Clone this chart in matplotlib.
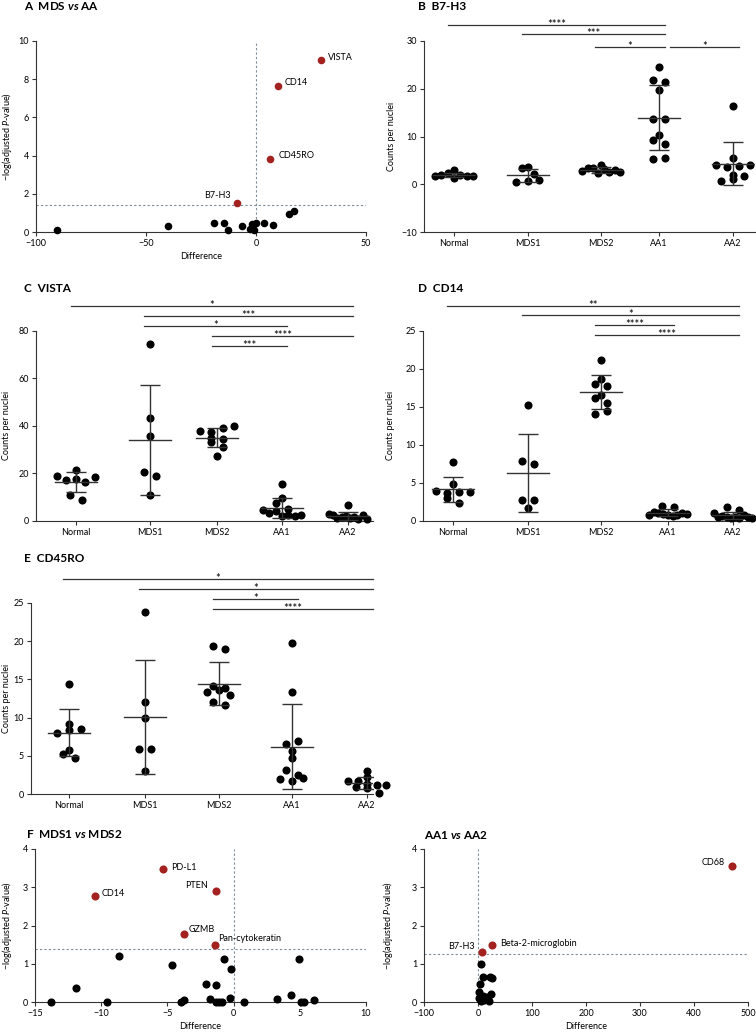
import numpy as np
import matplotlib
matplotlib.use("Agg")
import matplotlib.pyplot as plt

plt.rcParams['font.family'] = ['Lato', 'DejaVu Sans']
plt.rcParams['mathtext.fontset'] = 'custom'
plt.rcParams['mathtext.rm'] = 'Lato'
plt.rcParams['mathtext.it'] = 'Lato:italic'
plt.rcParams['mathtext.bf'] = 'Lato:bold'
plt.rcParams['mathtext.bfit'] = 'Lato:bold:italic'

# ---------------- data ----------------
groups = ['Normal', 'MDS1', 'MDS2', 'AA1', 'AA2']

b7h3 = [[1.8, 2.9, 1.9, 2.4, 1.4, 2.0, 1.7, 1.8],
        [3.3, 2.1, 3.6, 0.5, 0.7, 0.8],
        [2.7, 4.0, 3.4, 3.3, 2.3, 3.2, 2.5, 2.9, 2.5],
        [24.5, 21.8, 21.4, 19.8, 13.6, 13.6, 10.3, 9.2, 8.5, 5.3, 5.6],
        [16.4, 4.1, 5.4, 3.7, 3.9, 4.1, 0.6, 2.0, 1.0, 1.7]]

vista = [[19.0, 17.2, 21.4, 17.5, 16.5, 18.6, 11.1, 8.8],
         [74.5, 43.4, 35.9, 20.6, 18.9, 11.1],
         [38.0, 37.4, 39.1, 39.8, 33.3, 35.0, 34.6, 31.1, 27.2],
         [15.6, 9.8, 7.4, 4.9, 4.6, 3.5, 4.3, 2.1, 2.4, 2.1, 2.6],
         [6.9, 2.9, 2.4, 1.3, 1.7, 2.0, 1.1, 1.5, 0.8, 2.6, 1.0]]

cd14 = [[4.0, 3.7, 3.85, 4.85, 3.75, 7.8, 3.05, 2.3],
        [15.3, 7.9, 7.5, 2.8, 2.8, 1.7],
        [21.1, 18.7, 18.0, 17.7, 16.6, 16.2, 15.5, 14.1, 14.5],
        [2.0, 1.8, 0.8, 1.2, 1.0, 0.9, 0.8, 0.7, 0.8, 1.1, 0.9],
        [1.8, 1.5, 1.0, 0.5, 0.6, 0.5, 0.4, 0.5, 0.4, 0.8, 0.5, 0.4]]

cd45ro = [[14.45, 9.1, 8.0, 8.35, 8.5, 5.8, 5.3, 4.65],
          [23.8, 12.1, 9.9, 5.9, 5.85, 3.05],
          [19.4, 19.0, 14.1, 13.9, 13.3, 13.6, 12.9, 12.1, 11.6],
          [19.7, 13.4, 6.5, 6.9, 5.6, 4.75, 3.2, 2.55, 2.0, 1.65, 2.1],
          [3.0, 2.2, 1.7, 1.65, 1.3, 1.2, 1.15, 0.9, 0.8, 0.15]]

# significance brackets: (from group, to group, height, stars)
b7h3_sig = [(0, 3, 33.35, '****'), (1, 3, 31.5, '***'), (2, 3, 28.7, '*'), (3, 4, 28.7, '*')]
vista_sig = [(0, 4, 90.4, '*'), (1, 4, 86.2, '***'), (1, 3, 82.0, '*'),
             (2, 4, 77.8, '****'), (2, 3, 73.6, '***')]
cd14_sig = [(0, 4, 28.24, '**'), (1, 4, 27.06, '*'), (2, 3, 25.75, '****'), (2, 4, 24.44, '****')]
cd45ro_sig = [(0, 4, 28.14, '*'), (1, 4, 26.83, '*'), (2, 3, 25.52, '*'), (2, 4, 24.2, '****')]

# volcano A: MDS vs AA
a_names = ['VISTA', 'CD14', 'CD45RO', 'B7-H3']
a_hit_x = [29.7, 9.8, 6.3, -8.6]
a_hit_y = [9.0, 7.67, 3.84, 1.53]
a_ns_x = [-90.3, -40, -19.3, -14.6, -12.8, -6.3, -2.8, -1.9, -0.9, 0.2, 3.5, 7.8, 15.2, 17.2]
a_ns_y = [0.12, 0.3, 0.47, 0.47, 0.12, 0.33, 0.16, 0.44, 0.12, 0.47, 0.47, 0.39, 0.95, 1.09]
a_cut = 1.41

# volcano F: MDS1 vs MDS2
f1_names = ['PD-L1', 'PTEN', 'CD14', 'GZMB', 'Pan-cytokeratin']
f1_hit_x = [-5.3, -1.32, -10.5, -3.74, -1.39]
f1_hit_y = [3.49, 2.90, 2.76, 1.79, 1.48]
f1_ns_x = [-13.8, -11.9, -9.56, -8.66, -4.67, -3.95, -3.74, -2.08, -1.8, -1.34, -1.34, -1.1,
           -0.86, -0.76, -0.29, -0.2, 0.79, 3.3, 4.33, 4.96, 5.07, 5.33, 6.1]
f1_ns_y = [0.0, 0.37, 0.0, 1.2, 0.97, 0.0, 0.06, 0.47, 0.09, 0.45, 0.0, 0.0,
           0.0, 1.13, 0.1, 0.85, 0.0, 0.09, 0.19, 1.12, 0.0, 0.0, 0.06]
f1_cut = 1.38

# volcano: AA1 vs AA2
f2_names = ['CD68', 'Beta-2-microglobin', 'B7-H3']
f2_hit_x = [471, 26, 7.3]
f2_hit_y = [3.55, 1.49, 1.32]
f2_ns_x = [6, 10, 22, 26, 4, 1, 2, 5, 9, 24, 21, 3, 12, 16]
f2_ns_y = [1.0, 0.65, 0.65, 0.64, 0.46, 0.25, 0.1, 0.02, 0.15, 0.22, 0.02, 0.08, 0.05, 0.12]
f2_cut = 1.25

# ---------------- style ----------------
W, H = 756, 1032
RED = '#a3221f'
LINE = '#333333'
REF = '#7d8c99'
FS = 6.5


def px_axes(l, r, t, b):
    return fig.add_axes([l / W, 1 - b / H, (r - l) / W, (b - t) / H])


def style(ax):
    for s in ['top', 'right']:
        ax.spines[s].set_visible(False)
    for s in ['left', 'bottom']:
        ax.spines[s].set_color(LINE)
        ax.spines[s].set_linewidth(0.8)
    ax.tick_params(length=3, width=0.8, color=LINE, labelsize=FS, pad=2)


def row_scatter_x(ax, pos, vals, row_h=6.0, step=11.5, max_w=38.0):
    # prism-like column scatter: values falling in the same row are spread sideways
    pts = ax.transData.transform(np.column_stack([np.full(len(vals), pos), vals]))
    x0, ys = pts[0, 0], pts[:, 1]
    order = np.argsort(ys)
    rows, cur, start = [], [], None
    for i in order:
        if start is None or ys[i] - start > row_h:
            if cur:
                rows.append(cur)
            cur, start = [i], ys[i]
        else:
            cur.append(i)
    rows.append(cur)
    off = np.zeros(len(vals))
    for r in rows:
        r = sorted(r)
        n = len(r)
        sp = step if n < 2 else min(step, max_w / (n - 1))
        for k, i in enumerate(r):
            off[i] = (k - (n - 1) / 2) * sp
    back = ax.transData.inverted().transform(np.column_stack([x0 + off, ys]))
    return back[:, 0]


def dot_panel(ax, data, pos, xlim, ylim, yticks, sig, unit):
    style(ax)
    ax.set_xlim(*xlim)
    ax.set_ylim(*ylim)
    ax.set_yticks(yticks)
    ax.set_xticks(pos)
    ax.set_xticklabels(groups)
    half = 21 / unit
    for p, vals in zip(pos, data):
        vals = np.asarray(vals)
        xs = row_scatter_x(ax, p, vals)
        ax.scatter(xs, vals, s=34, color='black', zorder=3, linewidths=0, clip_on=False)
        m, sd = vals.mean(), vals.std(ddof=1)
        ax.errorbar(p, m, yerr=sd, fmt='none', ecolor=LINE, elinewidth=1,
                    capsize=7, capthick=1, zorder=4)
        ax.plot([p - half, p + half], [m, m], color=LINE, lw=1, zorder=4)
    for i, j, h, stars in sig:
        x1 = pos[i] - 0.08 if i != 3 or j != 4 else pos[i] + 0.15
        x2 = pos[j] + 0.08
        ax.plot([x1, x2], [h, h], color=LINE, lw=0.9, clip_on=False)
        ax.annotate(stars, ((x1 + x2) / 2, h), xytext=(0, -2.2), textcoords='offset points',
                    ha='center', va='baseline', fontsize=8, annotation_clip=False)
    ax.set_ylabel('Counts per nuclei', fontsize=FS)


def volcano(ax, hx, hy, names, offs, nx, ny, cut, xlim, ylim, xticks, yticks, s):
    style(ax)
    ax.set_xlim(*xlim)
    ax.set_ylim(*ylim)
    ax.set_xticks(xticks)
    ax.set_yticks(yticks)
    ax.axvline(0, color=REF, lw=0.8, ls=(0, (2, 2)), zorder=1)
    ax.axhline(cut, color=REF, lw=0.8, ls=(0, (2, 2)), zorder=1)
    ax.scatter(nx, ny, s=s, color='black', zorder=3, linewidths=0, clip_on=False)
    ax.scatter(hx, hy, s=s, color=RED, zorder=3, linewidths=0, clip_on=False)
    for x, y, n, (dx, dy, ha) in zip(hx, hy, names, offs):
        ax.annotate(n, (x, y), xytext=(dx, dy), textcoords='offset points',
                    ha=ha, va='center', fontsize=FS)
    ax.set_xlabel('Difference', fontsize=FS, labelpad=3)
    ax.set_ylabel('\u2212log(adjusted $\\mathit{P}$-value)', fontsize=FS)


def title(x, y, s):
    fig.text(x / W, 1 - y / H, s, fontsize=8.5, fontweight='bold', va='center')


fig = plt.figure(figsize=(W / 100, H / 100), dpi=100)

# A
axA = px_axes(36, 366, 41, 232)
volcano(axA, a_hit_x, a_hit_y, a_names,
        [(5, 2, 'left'), (5, 2, 'left'), (6, 2, 'left'), (-4.5, 5.5, 'right')],
        a_ns_x, a_ns_y, a_cut, (-100, 50), (0, 10), [-100, -50, 0, 50], [0, 2, 4, 6, 8, 10], 30)
axA.yaxis.set_label_coords(-0.068, 0.5)
title(24, 6, 'A  MDS $\\mathbfit{vs}$ AA')

# B
axB = px_axes(424, 755, 41, 232)
dot_panel(axB, b7h3, [0, 1, 1.99, 2.77, 3.77], (-0.405, 4.07), (-10, 30), [-10, 0, 10, 20, 30],
          b7h3_sig, 74)
axB.yaxis.set_label_coords(-0.085, 0.5)
title(418, 7, 'B  B7-H3')

# C
axC = px_axes(36, 373, 330.7, 521)
dot_panel(axC, vista, [0, 1.088, 2.074, 3.03, 4.0], (-0.588, 4.37), (0, 80), [0, 20, 40, 60, 80],
          vista_sig, 68)
axC.yaxis.set_label_coords(-0.074, 0.5)
title(24, 288, 'C  VISTA')

# D
axD = px_axes(423, 754, 330.7, 521)
dot_panel(axD, cd14, [0, 1.071, 2.114, 3.071, 4.0], (-0.4286, 4.3), (0, 25), [0, 5, 10, 15, 20, 25],
          cd14_sig, 70)
axD.yaxis.set_label_coords(-0.085, 0.5)
title(418, 288, 'D  CD14')

# E
axE = px_axes(31, 373, 603, 794)
dot_panel(axE, cd45ro, [0, 1.02, 2.01, 2.99, 4.0], (-0.51, 4.08), (0, 25), [0, 5, 10, 15, 20, 25],
          cd45ro_sig, 74.5)
axE.yaxis.set_label_coords(-0.058, 0.5)
title(24, 558, 'E  CD45RO')

# F left
axF1 = px_axes(35, 366, 849, 1002)
volcano(axF1, f1_hit_x, f1_hit_y, f1_names,
        [(5.5, 1, 'left'), (-5.5, 4, 'right'), (5, 2, 'left'), (3.5, 3, 'left'), (2, 5, 'left')],
        f1_ns_x, f1_ns_y, f1_cut, (-15, 10), (0, 4), [-15, -10, -5, 0, 5, 10], [0, 1, 2, 3, 4], 34)
axF1.yaxis.set_label_coords(-0.064, 0.5)
title(26, 834, 'F  MDS1 $\\mathbfit{vs}$ MDS2')

# F right
axF2 = px_axes(424, 748, 849, 1002)
volcano(axF2, f2_hit_x, f2_hit_y, f2_names,
        [(-5.5, 3, 'right'), (5.5, 1, 'left'), (-5.5, 3.5, 'right')],
        f2_ns_x, f2_ns_y, f2_cut, (-100, 500), (0, 4), [-100, 0, 100, 200, 300, 400, 500],
        [0, 1, 2, 3, 4], 34)
axF2.yaxis.set_label_coords(-0.09, 0.5)
title(424, 835, 'AA1 $\\mathbfit{vs}$ AA2')

fig.savefig('out.png', dpi=100)
